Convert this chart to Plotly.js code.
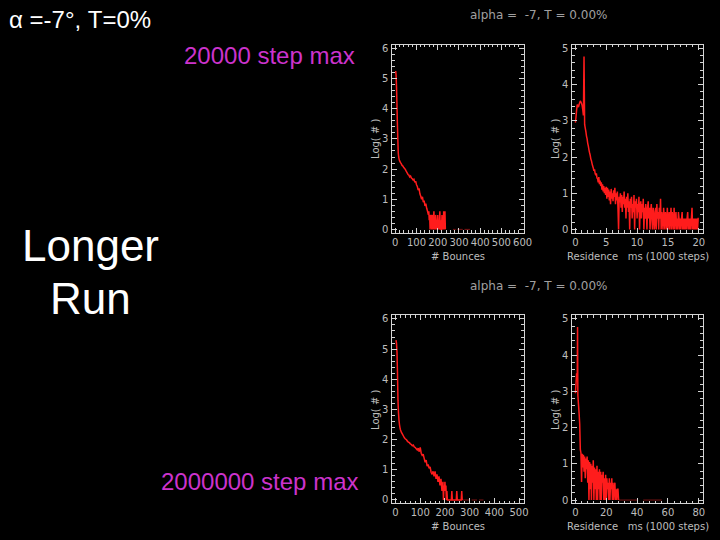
<!DOCTYPE html>
<html>
<head>
<meta charset="utf-8">
<script src="https://cdn.plot.ly/plotly-3.0.1.min.js"></script>
<style>html,body{margin:0;padding:0;background:#000;}#chart{width:720px;height:540px;}</style>
</head>
<body>
<div id="chart"></div>
<script>
// ---------- data ----------
// Top-left: 20000 step max, # bounces histogram (log10 counts)
const tlBounces = [2,4,6,8,10,12,14,16,18,20,24,28,32,36,40,44,48,52,56,60,64,68,72,76,80,84,88,92,96,100,104,108,112,116,120,124,128,132,136,140,144,148,152,156,158,160,162,164,166,168,170,172,174,176,178,180,182,184,186,188,190,192,194,196,198,200,202,204,206,208,210,212,214,216,218,220,222,224,226,228,230,232,234,236];
const tlLogN = [5.25,5.1,4.7,4.1,3.5,3.0,2.55,2.4,2.33,2.28,2.22,2.18,2.12,2.1,2.05,2.02,1.98,1.92,1.87,1.82,1.8,1.74,1.77,1.7,1.68,1.64,1.66,1.56,1.6,1.48,1.42,1.3,1.36,1.18,1.1,1.0,1.08,0.9,0.95,0.78,0.85,0.7,0.6,0.48,0.6,0.3,0.48,0,0.3,0.48,0.3,0,0.48,0.3,0,0.3,0.6,0,0.3,0,0.48,0.3,0,0.3,0,0.48,0,0.3,0,0.3,0.6,0,0.3,0,0,0.48,0,0.3,0,0.6,0,0.3,0.6,0];
const tlTailX = [272,285,null,292,318,null,326,352];
const tlTailY = [0,0,null,0,0,null,0,0];

// Top-right: 20000 step max, residence time (1000 steps)
const trTime = [0.0,0.1,0.2,0.3,0.4,0.5,0.6,0.7,0.8,0.9,1.0,1.1,1.2,1.3,1.4,1.5,1.6,1.7,1.8,1.9,2.0,2.1,2.2,2.3,2.4,2.5,2.6,2.7,2.8,2.9,3.0,3.1,3.2,3.3,3.4,3.5,3.6,3.7,3.8,3.9,4.0,4.1,4.2,4.3,4.4,4.5,4.6,4.7,4.8,4.9,5.0,
5.1,5.2,5.3,5.4,5.5,5.6,5.7,5.8,5.9,6.0,6.1,6.2,6.3,6.4,6.5,6.6,6.7,6.8,6.9,7.0,7.1,7.2,7.3,7.4,7.5,7.6,7.7,7.8,7.9,8.0,
8.1,8.2,8.3,8.4,8.5,8.6,8.7,8.8,8.9,9.0,9.1,9.2,9.3,9.4,9.5,9.6,9.7,9.8,9.9,10.0,
10.1,10.2,10.3,10.4,10.5,10.6,10.7,10.8,10.9,11.0,11.1,11.2,11.3,11.4,11.5,11.6,11.7,11.8,11.9,12.0,
12.1,12.2,12.3,12.4,12.5,12.6,12.7,12.8,12.9,13.0,13.1,13.2,13.3,13.4,13.5,13.6,13.7,13.8,13.9,14.0,
14.1,14.2,14.3,14.4,14.5,14.6,14.7,14.8,14.9,15.0,15.1,15.2,15.3,15.4,15.5,15.6,15.7,15.8,15.9,16.0,
16.1,16.2,16.3,16.4,16.5,16.6,16.7,16.8,16.9,17.0,17.1,17.2,17.3,17.4,17.5,17.6,17.7,17.8,17.9,18.0,
18.1,18.2,18.3,18.4,18.5,18.6,18.7,18.8,18.9,19.0,19.1,19.2,19.3,19.4,19.5,19.6,19.7,19.8,19.9,20.0];
const trLogN = [2.95,3.1,3.3,3.45,3.42,3.38,3.45,3.5,3.55,3.52,3.48,3.42,3.3,3.15,4.78,2.9,2.8,2.7,2.58,2.5,2.38,2.3,2.2,2.12,2.05,1.95,1.9,1.82,1.75,1.7,1.62,1.66,1.55,1.5,1.55,1.42,1.4,1.3,1.45,1.25,1.35,1.2,1.3,1.1,1.25,1.05,1.2,1.0,1.15,0.95,1.18,
0.85,1.15,0.9,1.1,0.8,1.05,0.7,1.12,0.85,1.0,0.78,1.08,0.9,1.15,0.7,1.0,0.8,1.05,0.6,0.0,0.9,0.75,1.0,0.6,0.95,0.48,0.9,0.7,1.05,0.6,
0.85,0.3,0.9,0.6,1.0,0.48,0.78,0.0,0.85,0.6,0.9,0.3,0.7,0.48,0.95,0.0,0.78,0.6,0.85,0.3,
0.7,0.48,0.9,0.0,0.6,0.78,0.3,0.7,0.48,0.85,0.0,0.6,0.3,0.7,0.48,0.0,0.6,0.78,0.3,0.6,
0.0,0.48,0.7,0.3,0.0,0.6,0.48,0.0,0.3,0.6,0.0,0.7,0.3,0.48,0.0,0.6,0.3,0.85,0.0,0.48,
0.3,0.0,0.6,0.3,0.0,0.48,0.3,0.0,0.6,0.0,0.3,0.48,0.0,0.3,0.6,0.0,0.48,0.3,0.0,0.6,
0.0,0.3,0.48,0.0,0.3,0.0,0.48,0.3,0.0,0.3,0.0,0.3,0.48,0.0,0.3,0.0,0.3,0.0,0.3,0.0,
0.3,0.48,0.0,0.3,0.0,0.3,0.0,0.3,0.6,0.0,0.3,0.0,0.3,0.0,0.3,0.0,0.3,0.0,0.3,0.3];

// Bottom-left: 2000000 step max, # bounces
const blBounces = [2,4,6,8,10,12,14,16,18,20,24,28,32,36,40,44,48,52,56,60,64,68,72,76,80,84,88,92,96,100,104,108,112,116,120,124,128,132,136,140,144,148,152,156,160,164,168,172,176,180,184,188,192,194,196,198,200,202,204,206,208,210,226,228,230,246,248,250,266,268,270];
const blLogN = [5.3,5.2,4.9,4.2,3.3,2.9,2.65,2.5,2.4,2.33,2.24,2.18,2.12,2.06,2.02,2.0,1.95,1.92,1.9,1.86,1.84,1.8,1.82,1.76,1.74,1.7,1.66,1.72,1.6,1.74,1.55,1.48,1.52,1.38,1.25,1.32,1.12,1.18,1.05,1.1,0.92,0.85,0.95,0.78,0.95,0.7,0.85,0.6,0.78,0.48,0.7,0.3,0.6,0.0,0.48,0.3,0.6,0.3,0.48,0.0,0.3,0,0,0.3,0,0,0.3,0,0,0.3,0];
const blTailX = [270,300,null,308,330,null,338,356];
const blTailY = [0,0,null,0,0,null,0,0];

// Bottom-right: 2000000 step max, residence time (1000 steps)
const brTime = [0.0,0.4,0.8,1.2,1.4,1.6,2.0,2.4,2.8,3.2,3.6,4.0,4.4,4.8,5.2,5.6,6.0,6.4,6.8,7.2,7.6,8.0,8.4,8.8,9.2,9.6,10.0,10.4,10.8,11.2,11.6,12.0,12.4,12.8,13.2,13.6,14.0,14.4,14.8,15.2,15.6,16.0,16.4,16.8,17.2,17.6,18.0,18.4,18.8,19.2,19.6,20.0,20.4,20.8,21.2,21.6,22.0,22.4,22.8,23.2,23.6,24.0,24.4,24.8,25.2,25.6,26.0,26.4,26.8,27.2,27.6,28.0];
const brLogN = [2.95,3.2,3.5,3.4,4.78,2.9,2.65,2.4,2.1,1.4,1.3,0.5,1.28,0.9,1.25,0.78,1.2,0.6,1.15,0.85,1.2,0.48,1.1,0.0,1.05,0.3,1.0,0.0,0.95,0.48,1.1,0.0,0.9,0.3,0.85,0.0,0.95,0.0,0.78,0.3,0.85,0.0,0.78,0.0,0.7,0.48,0.78,0.0,0.6,0.0,0.7,0.0,0.6,0.3,0.48,0.0,0.6,0.0,0.48,0.3,0.6,0.0,0.48,0.0,0.3,0.48,0.0,0.3,0.0,0.3,0.3,0.0];
const brTailX = [28,40,null,44,56];
const brTailY = [0,0,null,0,0];

// labels
const plotTitle = "alpha =  -7, T = 0.00%";
const yTitle = "Log( # )";
const xTitleLeft = "# Bounces";
const xTitleRight = "Residence   ms (1000 steps)";
const slideHeading = "α =-7°, T=0%";
const shortRunLabel = "20000 step max";
const longRunLabel = "2000000 step max";
const longerRunLines = ["Longer", "Run"];

// ---------- styling ----------
const RED = '#ff1c1c';
const DIM = '#7a1414';
const AX = '#d4d4d4';
const TXT = '#bdbdbd';
const W = 720, H = 540;

function trace(x, y, ax, color, width) {
  return {x: x, y: y, xaxis: 'x' + ax, yaxis: 'y' + ax, mode: 'lines',
          line: {color: color, width: width, simplify: false},
          connectgaps: false, hoverinfo: 'skip', showlegend: false};
}
const data = [
  trace(tlTailX, tlTailY, '', DIM, 1),
  trace(tlBounces, tlLogN, '', RED, 1.5),
  trace(trTime, trLogN, '2', RED, 1.5),
  trace(blTailX, blTailY, '3', DIM, 1),
  trace(blBounces, blLogN, '3', RED, 1.5),
  trace(brTailX, brTailY, '4', DIM, 1),
  trace(brTime, brLogN, '4', RED, 1.5)
];

function xax(domain, range, dtick, minor, anchor) {
  return {domain: domain, range: range, anchor: anchor, dtick: dtick, tick0: 0,
    showline: true, linecolor: AX, linewidth: 1, mirror: 'ticks',
    ticks: 'inside', ticklen: 5, tickcolor: AX, tickwidth: 1,
    minor: {ticks: 'inside', ticklen: 2.5, dtick: minor, tick0: 0, tickcolor: AX},
    showgrid: false, zeroline: false, fixedrange: true,
    tickfont: {family: 'DejaVu Sans', size: 10, color: TXT}};
}
function yax(domain, range, anchor) {
  return {domain: domain, range: range, anchor: anchor, dtick: 1, tick0: 0,
    showline: true, linecolor: AX, linewidth: 1, mirror: 'ticks',
    ticks: 'inside', ticklen: 5, tickcolor: AX, tickwidth: 1,
    minor: {ticks: 'inside', ticklen: 2.5, dtick: 0.2, tick0: 0, tickcolor: AX},
    showgrid: false, zeroline: false, fixedrange: true, ticklabelstandoff: 1,
    tickfont: {family: 'DejaVu Sans', size: 10, color: TXT}};
}
const leftX = [392.3 / W, 523.5 / W], rightX = [572.3 / W, 702.5 / W];
const topY = [1 - 232.7 / H, 1 - 44.5 / H], botY = [1 - 503.3 / H, 1 - 315 / H];
const yLeftRange = [-0.11, 6.13], yRightRange = [-0.09, 5.11];

function ann(text, px, py, size, color, xanchor, opts) {
  return Object.assign({text: text, x: px / W, y: 1 - py / H, xref: 'paper', yref: 'paper',
    xanchor: xanchor || 'center', yanchor: 'middle', showarrow: false,
    font: {family: 'Liberation Sans, Arial, sans-serif', size: size, color: color}}, opts || {});
}
const small = {family: 'DejaVu Sans', size: 10, color: TXT};
const titleFont = {family: 'DejaVu Sans', size: 12, color: '#a0a0a0'};
const annotations = [
  ann(plotTitle, 539, 15, 12, '#a0a0a0'),
  ann(plotTitle, 539, 286, 12, '#a0a0a0'),
  ann(yTitle, 375, 139, 10, TXT, 'center', {textangle: -90}),
  ann(yTitle, 555, 139, 10, TXT, 'center', {textangle: -90}),
  ann(yTitle, 375, 410, 10, TXT, 'center', {textangle: -90}),
  ann(yTitle, 555, 410, 10, TXT, 'center', {textangle: -90}),
  ann(xTitleLeft, 458, 256, 10, TXT),
  ann(xTitleRight, 638, 256, 10, TXT),
  ann(xTitleLeft, 458, 526, 10, TXT),
  ann(xTitleRight, 638, 526, 10, TXT),
  ann(slideHeading, 7, 20, 24, '#ffffff', 'left'),
  ann(shortRunLabel, 357, 55, 24, '#cc33cc', 'right'),
  ann(longerRunLines[0], 90, 245, 44, '#ffffff'),
  ann(longerRunLines[1], 90, 298, 44, '#ffffff'),
  ann(longRunLabel, 360, 481, 24, '#cc33cc', 'right')
];
annotations.slice(0, 2).forEach(a => { a.font = titleFont; });
annotations.slice(2, 10).forEach(a => { a.font = small; });

const layout = {
  width: W, height: H, margin: {l: 0, r: 0, t: 0, b: 0},
  paper_bgcolor: '#000000', plot_bgcolor: '#000000', showlegend: false,
  xaxis: xax(leftX, [-14, 604], 100, 20, 'y'),
  yaxis: yax(topY, yLeftRange, 'x'),
  xaxis2: xax(rightX, [-0.5, 20.6], 5, 1, 'y2'),
  yaxis2: yax(topY, yRightRange, 'x2'),
  xaxis3: xax(leftX, [-13, 518], 100, 20, 'y3'),
  yaxis3: yax(botY, yLeftRange, 'x3'),
  xaxis4: xax(rightX, [-2, 82.4], 20, 4, 'y4'),
  yaxis4: yax(botY, yRightRange, 'x4'),
  annotations: annotations
};
Plotly.newPlot('chart', data, layout, {staticPlot: true, displayModeBar: false});
</script>
</body>
</html>
